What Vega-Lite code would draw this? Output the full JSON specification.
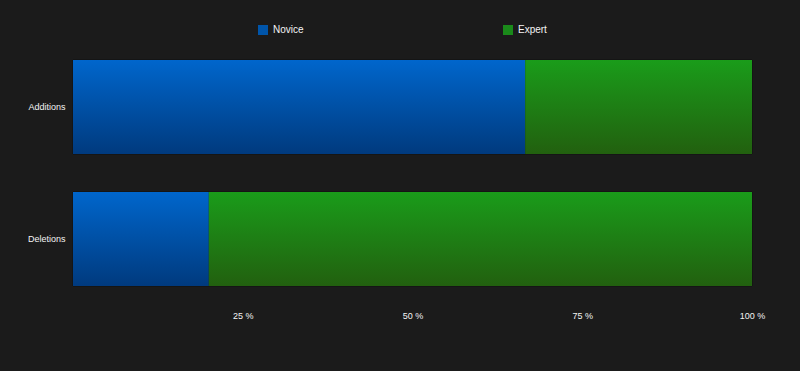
{
  "$schema": "https://vega.github.io/schema/vega-lite/v6.json",
  "width": 679,
  "height": 264,
  "autosize": {"type": "none"},
  "padding": {"left": 73, "top": 41, "right": 48, "bottom": 66},
  "background": "#1b1b1b",
  "config": {
    "view": {"stroke": null},
    "font": "Liberation Sans",
    "axis": {"labelColor": "#f4f4f4", "labelFontSize": 9, "labelFont": "Liberation Sans"},
    "legend": {"labelColor": "#f4f4f4", "labelFontSize": 10, "labelFont": "Liberation Sans"}
  },
  "data": {
    "values": [
      {"task": "Additions", "group": "Novice", "value": 66.6},
      {"task": "Additions", "group": "Expert", "value": 33.4},
      {"task": "Deletions", "group": "Novice", "value": 20},
      {"task": "Deletions", "group": "Expert", "value": 80}
    ]
  },
  "encoding": {
    "y": {
      "field": "task",
      "type": "nominal",
      "sort": ["Additions", "Deletions"],
      "scale": {"paddingInner": 0.288, "paddingOuter": 0.144},
      "axis": {"title": null, "domain": false, "ticks": false, "labelPadding": 8}
    },
    "x": {
      "field": "value",
      "type": "quantitative",
      "stack": "normalize",
      "scale": {"domain": [0, 1], "nice": false},
      "axis": {
        "title": null,
        "domain": false,
        "ticks": false,
        "grid": false,
        "values": [0.25, 0.5, 0.75, 1],
        "labelExpr": "format(datum.value * 100, 'd') + ' %'",
        "labelPadding": 6,
        "labelFlush": false
      }
    },
    "order": {"field": "group", "sort": "descending"}
  },
  "layer": [
    {
      "mark": {"type": "bar", "stroke": "#111111", "strokeWidth": 1},
      "encoding": {
        "color": {
          "field": "group",
          "type": "nominal",
          "scale": {"domain": ["Novice", "Expert"], "range": ["#0055aa", "#1a8a1a"]},
          "legend": {
            "title": null,
            "orient": "none",
            "legendX": 185,
            "legendY": -16,
            "direction": "horizontal",
            "symbolType": "square",
            "symbolSize": 100,
            "symbolStrokeWidth": 0,
            "columnPadding": 199,
            "labelOffset": 5
          }
        }
      }
    },
    {
      "mark": {"type": "bar"},
      "encoding": {
        "color": {
          "condition": {
            "test": "datum.group === 'Novice'",
            "value": {
              "gradient": "linear", "x1": 0, "y1": 0, "x2": 0, "y2": 1,
              "stops": [{"offset": 0, "color": "#0066cc"}, {"offset": 1, "color": "#003a7e"}]
            }
          },
          "value": {
            "gradient": "linear", "x1": 0, "y1": 0, "x2": 0, "y2": 1,
            "stops": [{"offset": 0, "color": "#1a9c1a"}, {"offset": 1, "color": "#22600f"}]
          }
        }
      }
    }
  ]
}
